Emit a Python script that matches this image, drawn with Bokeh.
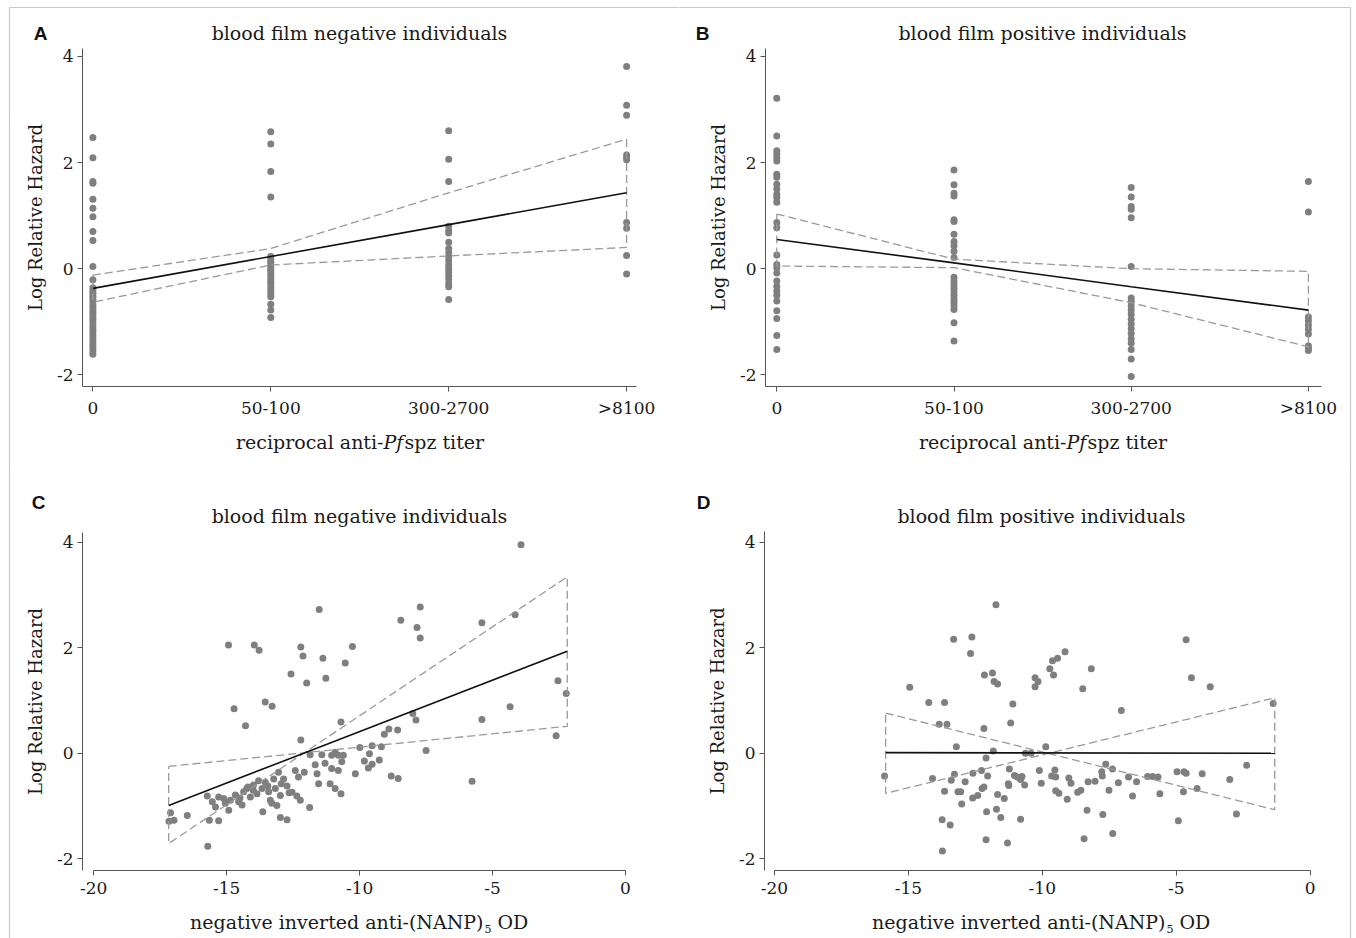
from bokeh.plotting import figure
from bokeh.models import Label, FixedTicker, Range1d, LinearAxis
from bokeh.layouts import gridplot
from bokeh.embed import file_html
from bokeh.resources import INLINE

SERIF = "DejaVu Serif"
SANS = "Liberation Sans"
TXT = "#1a1a1a"
DOT = "#7f7f7f"
CI = "#9a9a9a"
W, H = 678, 469

# ---------------- data ----------------
titer_ticks = [0, 1, 2, 3]
titer_labels = ["0", "50-100", "300-2700", ">8100"]
od_ticks = [-20, -15, -10, -5, 0]
od_labels = ["-20", "-15", "-10", "-5", "0"]
lrh_ticks = [-2, 0, 2, 4]
lrh_labels = ["-2", "0", "2", "4"]

# Panel A: blood film negative, titer category columns
a_col0 = [2.47, 2.09, 1.64, 1.61, 1.31, 1.14, 0.98, 0.70, 0.53, 0.04, -0.21, -0.36, -0.41, -0.46,
          -0.52, -0.57, -0.62, -0.68, -0.73, -0.79, -0.84, -0.90, -0.95, -1.01, -1.08, -1.14,
          -1.19, -1.26, -1.31, -1.37, -1.43, -1.48, -1.55, -1.61]
a_col1 = [2.58, 2.35, 1.83, 1.35, 0.23, 0.17, 0.12, 0.07, 0.02, -0.03, -0.08, -0.13, -0.19,
          -0.24, -0.29, -0.35, -0.41, -0.47, -0.53, -0.67, -0.78, -0.92]
a_col2 = [2.60, 2.06, 1.64, 0.80, 0.72, 0.67, 0.50, 0.38, 0.30, 0.22, 0.15, 0.07, 0.00, -0.06,
          -0.13, -0.20, -0.28, -0.34, -0.58]
a_col3 = [3.81, 3.08, 2.89, 2.14, 2.09, 2.05, 0.87, 0.76, 0.25, -0.10]
a_fit = [-0.37, 0.23, 0.83, 1.43]
a_upper = [-0.12, 0.38, 1.43, 2.44]
a_lower = [-0.63, 0.07, 0.24, 0.40]

# Panel B: blood film positive, titer category columns
b_col0 = [3.21, 2.50, 2.22, 2.16, 2.09, 2.03, 1.78, 1.72, 1.59, 1.50, 1.40, 1.34, 1.25, 0.87,
          0.77, 0.26, 0.08, 0.02, -0.08, -0.23, -0.33, -0.42, -0.50, -0.61, -0.79, -0.94,
          -1.26, -1.52]
b_col1 = [1.86, 1.58, 1.42, 1.37, 0.92, 0.89, 0.65, 0.51, 0.43, 0.33, 0.21, -0.16, -0.23,
          -0.30, -0.37, -0.44, -0.50, -0.57, -0.63, -0.70, -0.77, -1.02, -1.36]
b_col2 = [1.53, 1.35, 1.17, 1.12, 0.96, 0.04, -0.55, -0.62, -0.70, -0.78, -0.86, -0.95, -1.04,
          -1.13, -1.22, -1.32, -1.40, -1.52, -1.70, -2.03]
b_col3 = [1.64, 1.07, -0.91, -0.98, -1.06, -1.14, -1.23, -1.45, -1.50, -1.54]
b_fit = [0.55, 0.11, -0.34, -0.78]
b_upper = [1.03, 0.18, 0.00, -0.05]
b_lower = [0.05, 0.02, -0.64, -1.47]

# Panel C: blood film negative vs negative inverted anti-(NANP)5 OD
c_x = [-11.52, -14.93, -13.96, -13.78, -12.21, -12.13, -10.27, -11.38, -10.54, -12.58, -11.99,
       -11.27, -13.55, -13.29, -14.72, -14.29, -10.70, -12.21, -17.11, -16.98, -17.17, -16.48,
       -15.71, -15.65, -15.30, -15.73, -15.54, -15.42, -15.30, -15.11, -14.92, -14.86, -14.67,
       -14.55, -14.42, -14.36, -14.24, -14.11, -13.99, -13.86, -13.67, -13.55, -13.42, -13.36,
       -13.23, -13.17, -13.05, -12.98, -13.64, -13.11, -12.98, -12.73, -12.86, -12.73, -12.54,
       -12.42, -12.36, -12.23, -12.08, -11.88, -11.67, -11.60, -11.54, -11.86, -11.42, -11.30,
       -11.05, -10.92, -10.80, -10.61, -11.05, -10.80, -11.11, -10.92, -10.70, -10.16, -9.99,
       -10.67, -3.93, -7.72, -8.45, -7.84, -7.72, -5.40, -4.15, -2.54, -2.23, -4.34, -5.40,
       -2.61, -8.00, -7.88, -5.77, -7.50, -8.90, -8.57, -9.07, -9.53, -9.18, -9.63, -9.82,
       -9.53, -9.67, -9.26, -8.81, -8.55, -15.05, -14.50, -14.00, -13.80, -13.45, -12.95,
       -12.65, -12.30, -14.20, -13.30]
c_y = [2.72, 2.05, 2.05, 1.95, 2.01, 1.84, 2.02, 1.80, 1.71, 1.50, 1.33, 1.42, 0.97, 0.89,
       0.84, 0.52, 0.59, 0.25, -1.13, -1.27, -1.29, -1.18, -1.76, -1.27, -1.28, -0.81, -0.92,
       -1.02, -0.83, -0.86, -1.08, -0.89, -0.79, -0.92, -0.98, -0.73, -0.67, -0.83, -0.60,
       -0.77, -0.67, -0.55, -0.73, -0.89, -0.49, -0.67, -0.36, -0.80, -1.11, -0.99, -1.22,
       -1.26, -0.49, -0.62, -0.74, -0.33, -0.81, -0.89, -0.36, -1.03, -0.22, -0.39, -0.58,
       -0.03, -0.03, -0.19, -0.04, 0.02, -0.04, -0.04, -0.29, -0.33, -0.58, -0.67, -0.77,
       -0.39, 0.11, -0.16, 3.95, 2.77, 2.52, 2.38, 2.18, 2.47, 2.62, 1.37, 1.13, 0.88, 0.64,
       0.33, 0.75, 0.63, -0.53, 0.05, 0.46, 0.44, 0.36, 0.14, 0.12, -0.01, -0.15, -0.21,
       -0.28, -0.13, -0.43, -0.48, -0.95, -0.85, -0.70, -0.52, -0.62, -0.58, -0.75, -0.45,
       -0.64, -0.95]
c_fit_x = [-17.18, -2.19]
c_fit_y = [-0.99, 1.93]
c_ci_a = [-0.25, 0.51]
c_ci_b = [-1.71, 3.34]

# Panel D: blood film positive vs negative inverted anti-(NANP)5 OD
d_x = [-11.73, -13.31, -12.63, -12.68, -14.95, -12.16, -11.86, -11.80, -11.67, -14.24, -13.65,
       -11.10, -13.85, -13.56, -11.18, -12.18, -13.21, -11.83, -12.10, -10.63, -10.42, -9.87,
       -15.89, -14.10, -13.65, -13.40, -13.28, -13.15, -13.05, -12.88, -13.01, -12.59, -12.60,
       -12.41, -12.27, -12.25, -12.18, -12.04, -12.08, -13.74, -13.44, -13.73, -12.10, -11.71,
       -11.55, -11.30, -11.67, -11.42, -11.27, -11.23, -11.04, -11.25, -10.93, -10.81, -10.76,
       -10.66, -10.81, -10.27, -10.16, -10.27, -9.72, -9.62, -9.43, -9.15, -9.58, -8.49,
       -10.11, -10.04, -9.65, -9.53, -9.50, -9.50, -9.38, -9.07, -9.01, -8.93, -8.68, -8.56,
       -8.33, -8.44, -8.29, -4.63, -8.17, -4.43, -3.73, -7.05, -1.38, -2.37, -7.63, -7.78,
       -7.38, -7.76, -8.03, -7.16, -7.51, -6.78, -6.48, -6.63, -6.07, -5.88, -5.68, -5.61,
       -4.97, -4.71, -4.63, -4.03, -4.73, -4.22, -3.00, -4.92, -2.75, -7.74, -7.37]
d_y = [2.81, 2.16, 2.20, 1.89, 1.25, 1.48, 1.52, 1.36, 1.31, 0.96, 0.96, 0.93, 0.55, 0.55,
       0.57, 0.47, 0.12, 0.04, -0.09, 0.00, 0.00, 0.12, -0.43, -0.48, -0.72, -0.51, -0.40,
       -0.73, -0.73, -0.54, -0.96, -0.38, -0.85, -0.80, -0.33, -0.67, -0.64, -0.43, -1.11,
       -1.26, -1.36, -1.85, -1.64, -1.06, -1.22, -1.70, -0.78, -0.86, -0.58, -0.30, -0.42,
       -0.61, -0.45, -0.50, -0.44, -0.60, -1.25, 1.43, 1.36, 1.26, 1.60, 1.75, 1.80, 1.92,
       1.48, 1.22, -0.33, -0.57, -0.43, -0.32, -0.45, -0.71, -0.76, -0.87, -0.47, -0.57,
       -0.74, -0.70, -1.08, -1.62, -0.54, 2.15, 1.60, 1.43, 1.26, 0.81, 0.94, -0.23, -0.21,
       -0.35, -0.30, -0.43, -0.53, -0.56, -0.70, -0.45, -0.54, -0.81, -0.44, -0.44, -0.45,
       -0.77, -0.35, -0.35, -0.38, -0.39, -0.73, -0.67, -0.50, -1.28, -1.15, -1.16, -1.52]
d_fit_x = [-15.85, -1.32]
d_fit_y = [0.01, 0.00]
d_ci_a = [0.76, -1.07]
d_ci_b = [-0.76, 1.05]


class Panel:
    """A figure whose frame fills the whole canvas; axes are placed at fixed locations."""

    def __init__(self, x0_px, x_per_px, y0_px, y_per_px, box, xticks, xlabels):
        # x0_px: pixel column of data x=0 ; x_per_px: pixels per x unit (same for y)
        self.x0, self.kx, self.y0, self.ky = x0_px, x_per_px, y0_px, y_per_px
        xr = (self.dx(0), self.dx(W))
        yr = (self.dy(H), self.dy(0))
        p = figure(width=W, height=H, x_range=Range1d(*xr), y_range=Range1d(*yr),
                   output_backend="svg", toolbar_location=None, title=None,
                   x_axis_location=None, y_axis_location=None,
                   min_border=0, min_border_left=0, min_border_right=0,
                   min_border_top=0, min_border_bottom=0,
                   background_fill_color="white", border_fill_color="white")
        p.outline_line_color = None
        p.xgrid.visible = False
        p.ygrid.visible = False
        left, right, top, bottom, xb0, xb1 = box
        xax = LinearAxis(fixed_location=self.dy(bottom), bounds=(xb0, xb1),
                         ticker=FixedTicker(ticks=xticks),
                         major_label_overrides={t: l for t, l in zip(xticks, xlabels)})
        yax = LinearAxis(fixed_location=self.dx(left), bounds=(self.dy(bottom), self.dy(top)),
                         ticker=FixedTicker(ticks=lrh_ticks),
                         major_label_overrides={t: l for t, l in zip(lrh_ticks, lrh_labels)})
        for ax in (xax, yax):
            ax.axis_line_color = "#555555"
            ax.major_tick_line_color = "#555555"
            ax.minor_tick_line_color = None
            ax.major_tick_in = 0
            ax.major_tick_out = 5
            ax.major_label_text_font = SERIF
            ax.major_label_text_font_size = "17px"
            ax.major_label_text_color = TXT
        xax.major_label_standoff = 6
        yax.major_label_standoff = 4
        yax.axis_label = "Log Relative Hazard"
        yax.axis_label_text_font = SERIF
        yax.axis_label_text_font_style = "normal"
        yax.axis_label_text_font_size = "18px"
        yax.axis_label_text_color = TXT
        yax.axis_label_standoff = 8
        p.add_layout(xax, "below")
        p.add_layout(yax, "left")
        self.p = p

    def dx(self, px):
        return (px - self.x0) / self.kx

    def dy(self, py):
        return (self.y0 - py) / self.ky

    def text(self, px, py, text, size="19px", font=SERIF, style="normal", align="center",
             color=TXT, x_offset=0):
        self.p.add_layout(Label(x=self.dx(px), y=self.dy(py), text=text, text_font=font,
                                text_font_style=style, text_font_size=size,
                                text_color=color, text_align=align, text_baseline="middle",
                                x_offset=x_offset))

    def frame_line(self, pts):
        self.p.line([self.dx(a) for a, b in pts], [self.dy(b) for a, b in pts],
                    line_color="#c8c8c8", line_width=1.2)


def category_marks(pn, cols, fit, upper, lower):
    xs, ys = [], []
    for i, col in enumerate(cols):
        xs += [titer_ticks[i]] * len(col)
        ys += col
    pn.p.scatter(xs, ys, size=7, color=DOT, line_color=None)
    px = titer_ticks + titer_ticks[::-1] + [titer_ticks[0]]
    py = upper + lower[::-1] + [upper[0]]
    pn.p.line(px, py, line_color=CI, line_width=1.3, line_dash="8 4")
    pn.p.line(titer_ticks, fit, line_color="#111111", line_width=1.6)


def od_marks(pn, xs, ys, fx, fy, ca, cb):
    pn.p.scatter(xs, ys, size=7, color=DOT, line_color=None)
    px = [fx[0], fx[1], fx[1], fx[0], fx[0]]
    py = [ca[0], ca[1], cb[1], cb[0], ca[0]]
    pn.p.line(px, py, line_color=CI, line_width=1.3, line_dash="8 4")
    pn.p.line(fx, fy, line_color="#111111", line_width=1.6)


def titer_xlabel(pn, cx, cy):
    pn.text(cx, cy, "reciprocal anti-", align="right", x_offset=24)
    pn.text(cx, cy, "Pf", align="left", style="italic", x_offset=24)
    pn.text(cx, cy, "spz titer", align="left", x_offset=45)


def nanp_xlabel(pn, cx, cy):
    pn.text(cx, cy, "negative inverted anti-(NANP)", align="right", x_offset=124)
    pn.text(cx, cy + 7, "5", size="11px", align="left", x_offset=125)
    pn.text(cx, cy, "OD", align="left", x_offset=138)


LETTER = dict(size="19px", font=SANS, style="bold", color="#111111")

# Panel A  (pixel geometry inside its 678x469 cell)
pa = Panel(92.4, 177.9, 268.2, 53.1, (82, 636, 48, 386, -0.058, 3.056), titer_ticks, titer_labels)
category_marks(pa, [a_col0, a_col1, a_col2, a_col3], a_fit, a_upper, a_lower)
pa.text(359, 32, "blood film negative individuals")
pa.text(40, 33, "A", **LETTER)
titer_xlabel(pa, 359, 441)
pa.frame_line([(9, H), (9, 7), (W, 7)])

# Panel B
pb = Panel(98.3, 177.2, 268.2, 53.1, (87, 643, 48, 386, -0.064, 3.074), titer_ticks, titer_labels)
category_marks(pb, [b_col0, b_col1, b_col2, b_col3], b_fit, b_upper, b_lower)
pb.text(364, 32, "blood film positive individuals")
pb.text(24, 33, "B", **LETTER)
titer_xlabel(pb, 364, 441)
pb.frame_line([(0, 7), (672, 7), (672, H)])

# Panel C
pc = Panel(93.2 + 20 * 26.59, 26.59, 283.7, 52.8, (82, 627, 63, 401, -20, 0), od_ticks, od_labels)
od_marks(pc, c_x, c_y, c_fit_x, c_fit_y, c_ci_a, c_ci_b)
pc.text(359, 46, "blood film negative individuals")
pc.text(38, 33, "C", **LETTER)
nanp_xlabel(pc, 359, 452)
pc.frame_line([(9, 0), (9, H)])

# Panel D
pd_ = Panel(96.0 + 20 * 26.78, 26.78, 283.7, 52.8, (86, 633, 62, 401, -20, 0), od_ticks, od_labels)
od_marks(pd_, d_x, d_y, d_fit_x, d_fit_y, d_ci_a, d_ci_b)
pd_.text(363, 46, "blood film positive individuals")
pd_.text(25, 33, "D", **LETTER)
nanp_xlabel(pd_, 363, 452)
pd_.frame_line([(672, 0), (672, H)])

grid = gridplot([[pa.p, pb.p], [pc.p, pd_.p]], toolbar_location=None)
open("out.html", "w").write(file_html(grid, INLINE))
